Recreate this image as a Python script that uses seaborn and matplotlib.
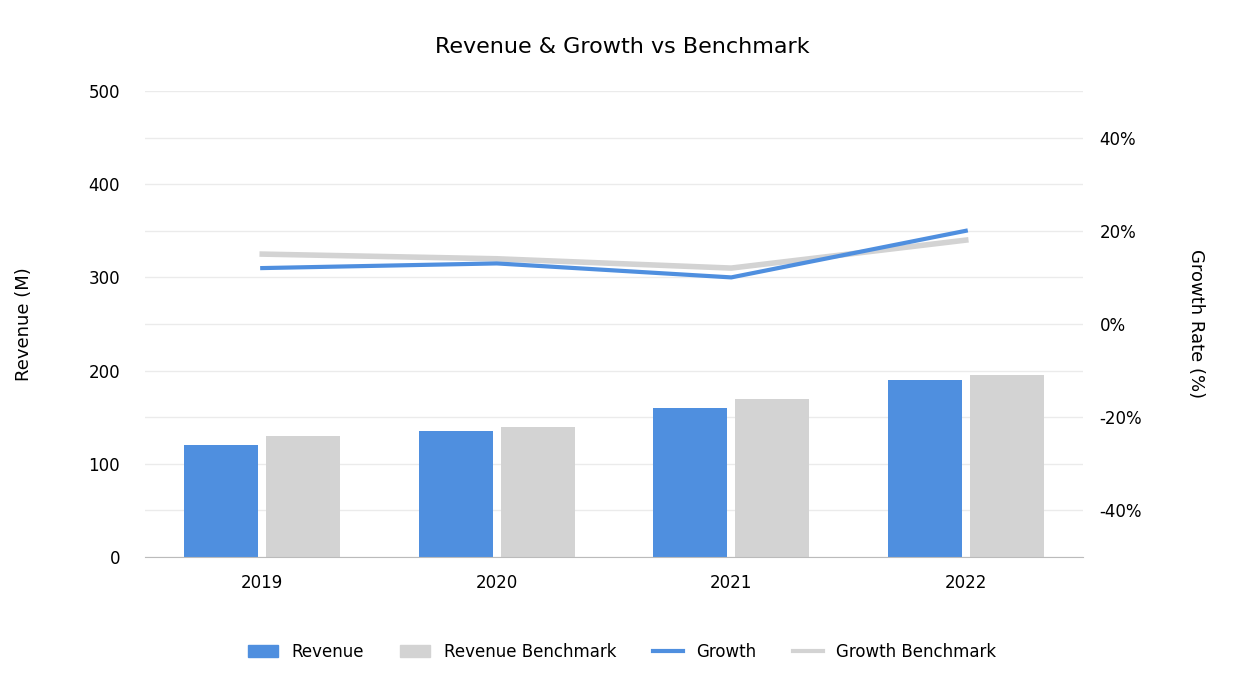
import matplotlib
matplotlib.use("Agg")
import matplotlib.pyplot as plt
import seaborn as sns
import pandas as pd
from matplotlib.lines import Line2D
from matplotlib.patches import Patch

years = ["2019", "2020", "2021", "2022"]
revenue = [120, 135, 160, 190]
revenue_bench = [130, 140, 170, 195]
growth = [12, 13, 10, 20]
growth_bench = [15, 14, 12, 18]

BLUE = "#4f8fdf"
GREY = "#d3d3d3"

df = pd.DataFrame({
    "year": years * 2,
    "value": revenue + revenue_bench,
    "series": ["Revenue"] * 4 + ["Revenue Benchmark"] * 4,
})

plt.rcParams["font.family"] = "DejaVu Sans"
fig = plt.figure(figsize=(12.44, 6.96), dpi=100)
ax = fig.add_axes([145/1244, 1-557/696, (1083-145)/1244, (557-91)/696])
sns.barplot(data=df, x="year", y="value", hue="series", palette=[BLUE, GREY],
            ax=ax, width=0.7, gap=0.1, legend=False, saturation=1)
ax.set_ylim(0, 500)
ax.set_xlim(-0.5, 3.5)
ax.set_yticks(range(0, 501, 100))
ax.set_yticks(range(50, 500, 100), minor=True)
ax.tick_params(axis="y", which="both", length=0, labelsize=12, pad=18)
ax.tick_params(axis="x", length=0, labelsize=12, pad=12)
ax.grid(axis="y", which="both", color="#ebebeb", lw=1)
ax.set_axisbelow(True)
for s in ["top", "right", "left"]:
    ax.spines[s].set_visible(False)
ax.spines["bottom"].set_color("#bbbbbb")
ax.set_xlabel("")
ax.set_ylabel("Revenue (M)", fontsize=13, labelpad=40)

ax2 = ax.twinx()
x = list(range(4))
ax2.plot(x, growth_bench, color=GREY, lw=4, zorder=2)
ax2.plot(x, growth, color=BLUE, lw=3, zorder=3)
ax2.set_ylim(-50, 50)
ax2.set_yticks([-40, -20, 0, 20, 40])
ax2.set_yticklabels(["-40%", "-20%", "0%", "20%", "40%"])
ax2.tick_params(axis="y", length=0, labelsize=12, pad=12)
for s in ax2.spines.values():
    s.set_visible(False)
ax2.set_ylabel("Growth Rate (%)", fontsize=13, rotation=270, labelpad=45)

fig.suptitle("Revenue & Growth vs Benchmark", y=1-47/696, fontsize=16, va="center")

handles = [Patch(color=BLUE), Patch(color=GREY),
           Line2D([], [], color=BLUE, lw=3), Line2D([], [], color=GREY, lw=3)]
fig.legend(handles, ["Revenue", "Revenue Benchmark", "Growth", "Growth Benchmark"],
           loc="center", bbox_to_anchor=(0.5, 1-652/696), ncol=4, frameon=False,
           fontsize=12, handlelength=1.8, columnspacing=2.2)

fig.savefig("out.png", dpi=100)
